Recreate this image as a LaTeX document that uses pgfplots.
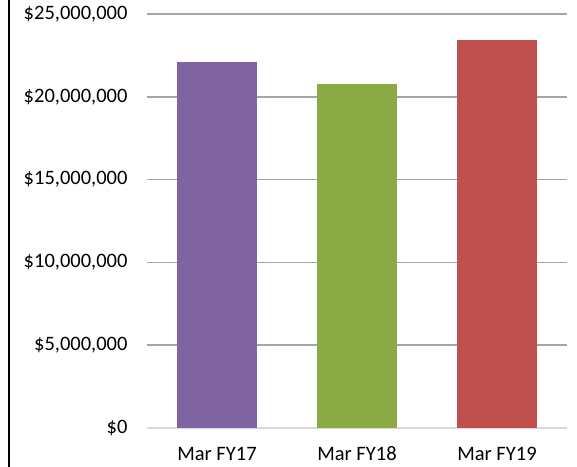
\documentclass[border=0pt]{standalone}
\usepackage{fontspec}
\setmainfont{Carlito}
\usepackage{pgfplots}
\pgfplotsset{compat=1.18}
\definecolor{cPurple}{HTML}{8064A2}
\definecolor{cGreen}{HTML}{8BAA46}
\definecolor{cRed}{HTML}{C0504D}
\definecolor{gridc}{HTML}{A6A6A6}
\definecolor{zeroc}{HTML}{D9D9D9}
\begin{document}
\begin{tikzpicture}[x=1bp,y=1bp]
\useasboundingbox (0,0) rectangle (577,467);
\draw[black, line width=1.2bp] (9,0) -- (9,467);
\begin{axis}[
  at={(147bp,39bp)}, anchor=south west,
  scale only axis, width=420bp, height=414bp,
  xmin=-0.5, xmax=2.5, ymin=0, ymax=25000000,
  scaled y ticks=false,
  xtick={0,1,2}, xticklabels={Mar FY17, Mar FY18, Mar FY19},
  ytick={0,5000000,10000000,15000000,20000000,25000000},
  yticklabels={{\$0},{\$5,000,000},{\$10,000,000},{\$15,000,000},{\$20,000,000},{\$25,000,000}},
  major tick length=0pt,
  ymajorgrids, major grid style={draw=gridc, line width=1.5bp},
  axis x line*=bottom, axis y line*=left,
  y axis line style={draw=none},
  x axis line style={draw=zeroc, line width=2.2bp, -},
  ticklabel style={font=\fontsize{20.5bp}{24bp}\selectfont},
  yticklabel style={xshift=-16bp},
  xticklabel style={anchor=north, text height=13.5bp, text depth=0bp, inner sep=0pt, yshift=-19bp},
  ybar, bar width=80bp, bar shift=0pt,
  clip=false,
]
\addplot[fill=cPurple, draw=none] coordinates {(0,22100000)};
\addplot[fill=cGreen, draw=none] coordinates {(1,20750000)};
\addplot[fill=cRed, draw=none] coordinates {(2,23450000)};
\end{axis}
\end{tikzpicture}
\end{document}
